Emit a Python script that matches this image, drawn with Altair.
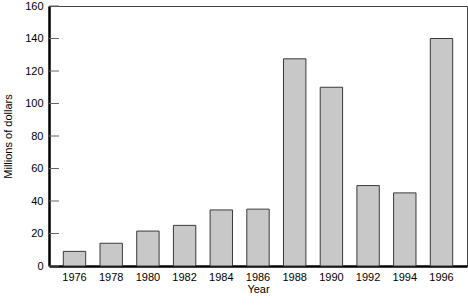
import altair as alt
import pandas as pd

years = ["1976", "1978", "1980", "1982", "1984", "1986", "1988", "1990", "1992", "1994", "1996"]
values = [9, 14, 21.5, 25, 34.5, 35, 127.5, 110, 49.5, 45, 140]
y_ticks = [0, 20, 40, 60, 80, 100, 120, 140, 160]

df = pd.DataFrame({"Year": years, "Value": values})
tick_df = pd.DataFrame({"Value": y_ticks})

FONT = "Liberation Sans"

yscale = alt.Scale(domain=[0, 160], nice=False)
yaxis = alt.Axis(title="Millions of dollars", values=y_ticks, ticks=False,
                 grid=False, domainColor="black", domainWidth=2.5,
                 labelPadding=6, titlePadding=11,
                 labelOverlap=False, labelFlush=False,
                 labelFont=FONT, titleFont=FONT,
                 labelFontSize=11, titleFontSize=11,
                 titleFontWeight="normal", labelColor="black",
                 titleColor="black")

bars = alt.Chart(df).mark_bar(
    fill="#c8c8c8", stroke="#3a3a3a", strokeWidth=1
).encode(
    x=alt.X("Year:O", sort=years,
            scale=alt.Scale(paddingInner=0.39, paddingOuter=0.39),
            axis=alt.Axis(title="Year", labelAngle=0, ticks=False,
                          domainColor="black", domainWidth=2.5,
                          labelPadding=5, titlePadding=1,
                          labelOverlap=False, labelFlush=False,
                          labelFont=FONT, titleFont=FONT,
                          labelFontSize=11, titleFontSize=11,
                          titleFontWeight="normal", labelColor="black",
                          titleColor="black")),
    y=alt.Y("Value:Q", scale=yscale, axis=yaxis),
)

ticks = alt.Chart(tick_df).mark_rule(color="#666666", strokeWidth=1).encode(
    y=alt.Y("Value:Q", scale=yscale, axis=yaxis),
    x=alt.value(0),
    x2=alt.value(10),
)

chart = alt.layer(bars, ticks).properties(
    width=418, height=260,
    padding={"left": 49, "top": 6, "right": 1, "bottom": 41},
    autosize=alt.AutoSizeParams(type="none"),
).configure_view(
    stroke="#444444", strokeWidth=1
).configure_axis(
    grid=False, labelOverlap=False
)

chart.save("out.html", embed_options={"renderer": "svg", "actions": False})
